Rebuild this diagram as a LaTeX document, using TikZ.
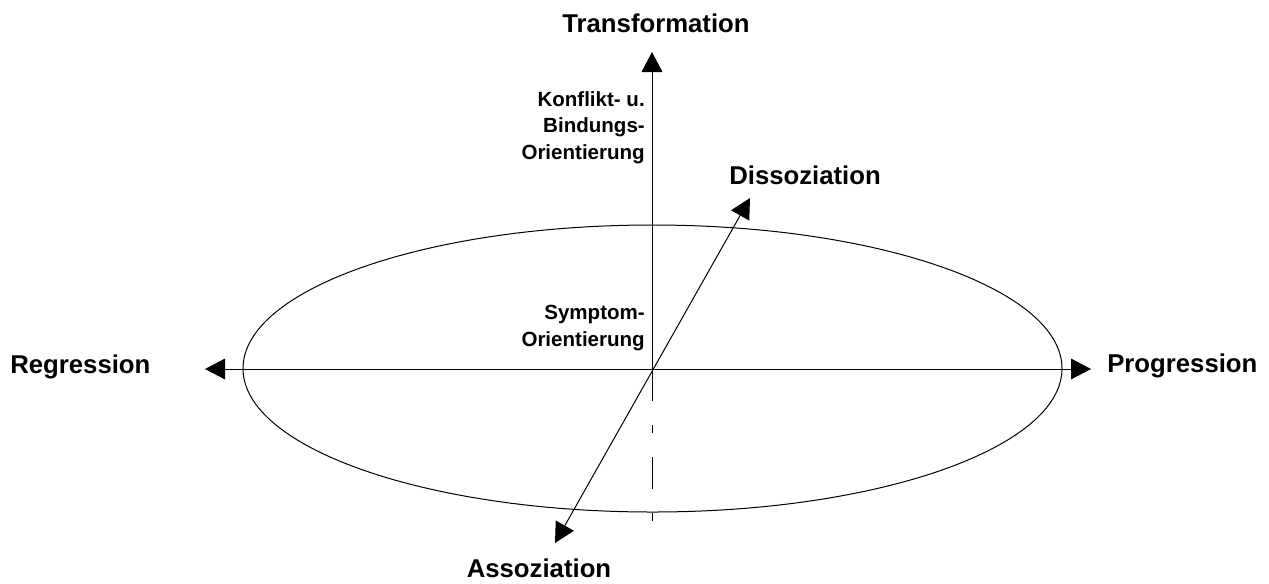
\documentclass[tikz,border=0pt]{standalone}
\usepackage{fontspec}
\setmainfont{Liberation Sans}
\usetikzlibrary{arrows.meta}
\tikzset{
  axis/.style={line width=0.75pt,black},
  tipped/.style={-{Triangle[length=15pt,width=15.5pt]}},
  bigtext/.style={font=\fontsize{19.3pt}{23pt}\selectfont\bfseries,inner sep=0pt},
  smalltext/.style={font=\fontsize{15.4pt}{20pt}\selectfont\bfseries,inner sep=0pt,align=right},
}
\begin{document}
\begin{tikzpicture}[x=0.75pt,y=-0.75pt]
\useasboundingbox (0,0) rectangle (1269,583);
% coordinates
\coordinate (O) at (652,369);
\coordinate (T) at (652,52);
\coordinate (B) at (652,521);
\coordinate (L) at (205,369);
\coordinate (R) at (1091,369);
\coordinate (D) at (750,198);
\coordinate (A) at (555,543);
% ellipse
\draw[axis] (652.5,368.5) ellipse [x radius=409.5, y radius=143.5];
% axes
\draw[axis,tipped] (O) -- (T);
\draw[axis,dash pattern=on 24pt off 18pt on 6pt off 18pt] (O) -- (B);
\draw[axis,{Triangle[length=15pt,width=15.5pt]}-{Triangle[length=15pt,width=15.5pt]}] (L) -- (R);
\draw[axis,{Triangle[length=15pt,width=15.5pt]}-{Triangle[length=15pt,width=15.5pt]}] (A) -- (D);
% labels
\node[bigtext,anchor=base] (trans) at (656,32) {Transformation};
\node[bigtext,anchor=base west] (reg) at (10,373) {Regression};
\node[bigtext,anchor=base west] (prog) at (1107,372) {Progression};
\node[bigtext,anchor=base west] (diss) at (729,184) {Dissoziation};
\node[bigtext,anchor=base] (asso) at (539,577) {Assoziation};
\node[smalltext,anchor=base east] (konf) at (645,159.5) {Konflikt- u.\\Bindungs-\\Orientierung};
\node[smalltext,anchor=base east] (symp) at (645,346) {Symptom-\\Orientierung};
\end{tikzpicture}
\end{document}
